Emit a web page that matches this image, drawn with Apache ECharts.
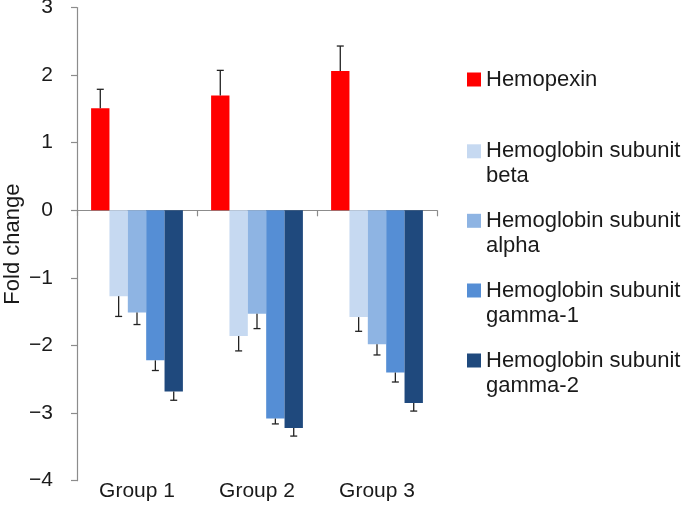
<!DOCTYPE html>
<html>
<head>
<meta charset="utf-8">
<script src="https://cdn.jsdelivr.net/npm/echarts@6/dist/echarts.min.js"></script>
<style>
html,body{margin:0;padding:0;background:#fff;}
#chart{width:685px;height:505px;}
</style>
</head>
<body>
<div id="chart"></div>
<script>
// ---- data ----
var categories = ['Group 1', 'Group 2', 'Group 3'];
var seriesNames = ['Hemopexin', 'Hemoglobin subunit beta', 'Hemoglobin subunit alpha', 'Hemoglobin subunit gamma-1', 'Hemoglobin subunit gamma-2'];
var hemopexin = [1.51, 1.70, 2.06];
var hbBeta = [-1.27, -1.86, -1.58];
var hbAlpha = [-1.51, -1.53, -1.98];
var hbGamma1 = [-2.22, -3.08, -2.40];
var hbGamma2 = [-2.68, -3.22, -2.85];
var errHemopexin = [0.28, 0.37, 0.37];
var errBeta = [0.30, 0.22, 0.21];
var errAlpha = [0.18, 0.22, 0.16];
var errGamma1 = [0.15, 0.08, 0.14];
var errGamma2 = [0.13, 0.12, 0.12];
var yTicks = [-4, -3, -2, -1, 0, 1, 2, 3];

var colors = ['#FF0000', '#C6D9F1', '#8EB4E3', '#558ED5', '#1F497D'];
var values = [hemopexin, hbBeta, hbAlpha, hbGamma1, hbGamma2];
var errors = [errHemopexin, errBeta, errAlpha, errGamma1, errGamma2];

var FONT = "'Liberation Sans', Arial, Helvetica, sans-serif";
var GAP = 0.235;
var N = values.length;

var series = [];
values.forEach(function (vals, k) {
  series.push({
    type: 'bar',
    name: seriesNames[k],
    xAxisIndex: 0,
    data: vals,
    barGap: 0,
    barCategoryGap: (GAP * 100) + '%',
    itemStyle: { color: colors[k] },
    z: 2
  });
});
values.forEach(function (vals, k) {
  series.push({
    type: 'custom',
    xAxisIndex: 0,
    z: 5,
    silent: true,
    data: vals.map(function (v, i) { return [i, v, errors[k][i]]; }),
    renderItem: function (params, api) {
      var ci = api.value(0), v = api.value(1), e = api.value(2);
      var band = api.size([1, 0])[0];
      var total = band * (1 - GAP);
      var bw = total / N;
      var off = -total / 2 + (k + 0.5) * bw;
      var p0 = api.coord([ci, v]);
      var p1 = api.coord([ci, v + (v >= 0 ? 1 : -1) * e]);
      var x = p0[0] + off;
      var st = { stroke: '#222', lineWidth: 1.3 };
      return {
        type: 'group',
        children: [
          { type: 'line', shape: { x1: x, y1: p0[1], x2: x, y2: p1[1] }, style: st },
          { type: 'line', shape: { x1: x - 3.5, y1: p1[1], x2: x + 3.5, y2: p1[1] }, style: st }
        ]
      };
    }
  });
});

function legendFor(name, top, twoLine) {
  return {
    left: 467,
    top: top,
    padding: 0,
    orient: 'vertical',
    itemWidth: 14,
    itemHeight: 14,
    itemGap: 0,
    icon: 'rect',
    data: [name],
    selectedMode: false,
    formatter: function (n) {
      // a leading blank line keeps the icon level with the first text line
      return twoLine ? '\n' + n.replace(' subunit ', ' subunit\n') : n;
    },
    textStyle: { fontFamily: FONT, fontSize: 22, color: '#1a1a1a', lineHeight: 25 }
  };
}

var option = {
  animation: false,
  backgroundColor: '#fff',
  grid: { left: 77, right: 248, top: 7.5, bottom: 24.3, containLabel: false, outerBoundsMode: 'none' },
  legend: [
    legendFor(seriesNames[0], 67, false),
    legendFor(seriesNames[1], 113.8, true),
    legendFor(seriesNames[2], 183.3, true),
    legendFor(seriesNames[3], 253, true),
    legendFor(seriesNames[4], 323, true)
  ],
  xAxis: [
    {
      type: 'category',
      data: categories,
      position: 'bottom',
      axisLine: { onZero: true, lineStyle: { color: '#8c8c8c', width: 1.2 } },
      axisTick: { show: true, length: 6, lineStyle: { color: '#8c8c8c', width: 1.2 } },
      axisLabel: { show: false },
      splitLine: { show: false }
    },
    {
      type: 'category',
      data: categories,
      position: 'bottom',
      axisLine: { show: false, onZero: false },
      axisTick: { show: false },
      axisLabel: { show: true, margin: 0, fontFamily: FONT, fontSize: 21, color: '#1a1a1a', lineHeight: 22 },
      splitLine: { show: false }
    }
  ],
  yAxis: {
    type: 'value',
    min: yTicks[0],
    max: yTicks[yTicks.length - 1],
    interval: 1,
    name: 'Fold change',
    nameLocation: 'middle',
    nameGap: 53,
    nameRotate: 90,
    nameMoveOverlap: false,
    nameTextStyle: { fontFamily: FONT, fontSize: 22, color: '#1a1a1a' },
    axisLine: { show: true, lineStyle: { color: '#8c8c8c', width: 1.2 } },
    axisTick: { show: true, length: 6, lineStyle: { color: '#8c8c8c', width: 1.2 } },
    axisLabel: {
      margin: 24, fontFamily: FONT, fontSize: 21, color: '#1a1a1a',
      formatter: function (v) { return v < 0 ? '\u2212' + Math.abs(v) : String(v); }
    },
    splitLine: { show: false }
  },
  series: series
};

var chart = echarts.init(document.getElementById('chart'), null, { renderer: 'canvas' });
chart.setOption(option);
</script>
</body>
</html>
